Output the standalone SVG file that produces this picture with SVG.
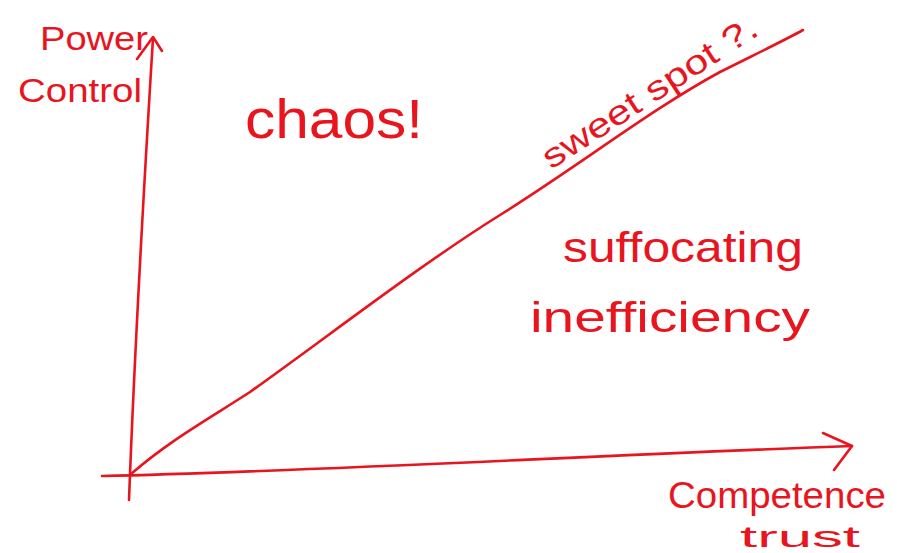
<svg xmlns="http://www.w3.org/2000/svg" width="897" height="553" viewBox="0 0 897 553">
<style>
.ln{fill:none;stroke:#e8141e;stroke-width:2.6;stroke-linecap:round;stroke-linejoin:round}
.t{fill:#e8141e;font-family:"Liberation Sans",Arial,sans-serif}
</style>
<rect width="897" height="553" fill="#fff"/>
<g id="connectors">
<path class="ln" d="M129,500 C132,420 140,250 153,38"/>
<path class="ln" d="M137,59 L153,37 L162,51"/>
<path class="ln" d="M102,476 C300,472 600,455 852,446"/>
<path class="ln" d="M823,433 L852,446 L834,470"/>
<path class="ln" d="M131,474 C170,440 210,418 250,392 C330,335 420,265 500,215 C580,165 650,110 720,72 C760,52 785,40 803,30"/>
</g>
<g id="y-label">
<text class="t" x="40" y="50" font-size="34" textLength="108" lengthAdjust="spacingAndGlyphs">Power</text>
<text class="t" x="18" y="102" font-size="34" textLength="124" lengthAdjust="spacingAndGlyphs">Control</text>
</g>
<g id="chaos">
<text class="t" x="245" y="138" font-size="56" textLength="178" lengthAdjust="spacingAndGlyphs">chaos!</text>
</g>
<g id="sweet-spot">
<text class="t" x="551" y="170" font-size="34" transform="rotate(-33 551 170)" textLength="250" lengthAdjust="spacingAndGlyphs">sweet spot ?.</text>
</g>
<g id="suffocating">
<text class="t" x="563" y="262" font-size="42" textLength="240" lengthAdjust="spacingAndGlyphs">suffocating</text>
<text class="t" x="530" y="332" font-size="42" textLength="280" lengthAdjust="spacingAndGlyphs">inefficiency</text>
</g>
<g id="x-label">
<text class="t" x="668" y="508" font-size="36" textLength="218" lengthAdjust="spacingAndGlyphs">Competence</text>
<text class="t" x="740" y="547" font-size="30" textLength="120" lengthAdjust="spacingAndGlyphs">trust</text>
</g>
</svg>
